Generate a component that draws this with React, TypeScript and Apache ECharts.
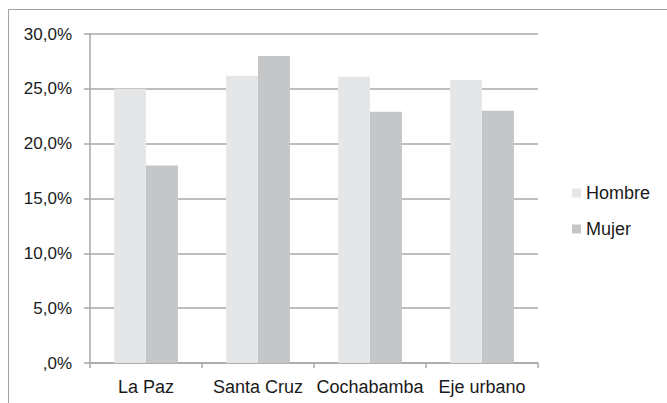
import React, { useEffect, useRef } from "react";
import * as echarts from "echarts";

const categories = ["La Paz", "Santa Cruz", "Cochabamba", "Eje urbano"];
const hombre = [25.0, 26.2, 26.1, 25.8];
const mujer = [18.0, 28.0, 22.9, 23.0];
const yTicks = { min: 0, max: 30, interval: 5 };

const fmt = (v: number) => (v === 0 ? ",0%" : v.toFixed(1).replace(".", ",") + "%");

export default function App() {
  const ref = useRef<HTMLDivElement>(null);
  useEffect(() => {
    if (!ref.current) return;
    const chart = echarts.init(ref.current, null, { renderer: "svg" });
    const font = "'Liberation Sans', Arial, sans-serif";
    const lineColor = "#a8a8a8";
    chart.setOption({
      animation: false,
      backgroundColor: "#ffffff",
      textStyle: { fontFamily: font },
      graphic: [
        {
          type: "rect",
          shape: { x: 8.5, y: 9.5, width: 700, height: 420 },
          style: { fill: "none", stroke: "#a0a0a0", lineWidth: 1 },
          silent: true,
          z: -1,
        },
      ],
      grid: { left: 90, right: 129, top: 34, bottom: 40, containLabel: false },
      legend: {
        orient: "vertical",
        left: 567,
        top: 179,
        itemWidth: 9,
        itemHeight: 9,
        itemGap: 18,
        icon: "rect",
        textStyle: { fontFamily: font, fontSize: 18, color: "#1a1a1a" },
        data: ["Hombre", "Mujer"],
      },
      xAxis: {
        type: "category",
        data: categories,
        axisLine: { lineStyle: { color: lineColor, width: 1.5 } },
        axisTick: { show: true, length: 5, lineStyle: { color: lineColor, width: 1.5 } },
        axisLabel: {
          fontFamily: font,
          fontSize: 18,
          color: "#1a1a1a",
          margin: 15,
          interval: 0,
          hideOverlap: false,
        },
      },
      yAxis: {
        type: "value",
        min: yTicks.min,
        max: yTicks.max,
        interval: yTicks.interval,
        axisLine: { show: true, lineStyle: { color: lineColor, width: 1.5 } },
        axisTick: { show: true, length: 6, lineStyle: { color: lineColor, width: 1.5 } },
        splitLine: { show: true, lineStyle: { color: lineColor, width: 1.5 } },
        axisLabel: { fontFamily: font, fontSize: 17, color: "#1a1a1a", margin: 18, formatter: fmt },
      },
      series: [
        {
          name: "Hombre",
          type: "bar",
          data: hombre,
          itemStyle: { color: "#e5e6e8" },
          barGap: "0%",
          barCategoryGap: "43%",
        },
        {
          name: "Mujer",
          type: "bar",
          data: mujer,
          itemStyle: { color: "#c5c6c8" },
          barGap: "0%",
          barCategoryGap: "43%",
        },
      ],
    });
    return () => chart.dispose();
  }, []);
  return (
    <div
      ref={ref}
      style={{ position: "fixed", left: 0, top: 0, width: 667, height: 403 }}
    />
  );
}
